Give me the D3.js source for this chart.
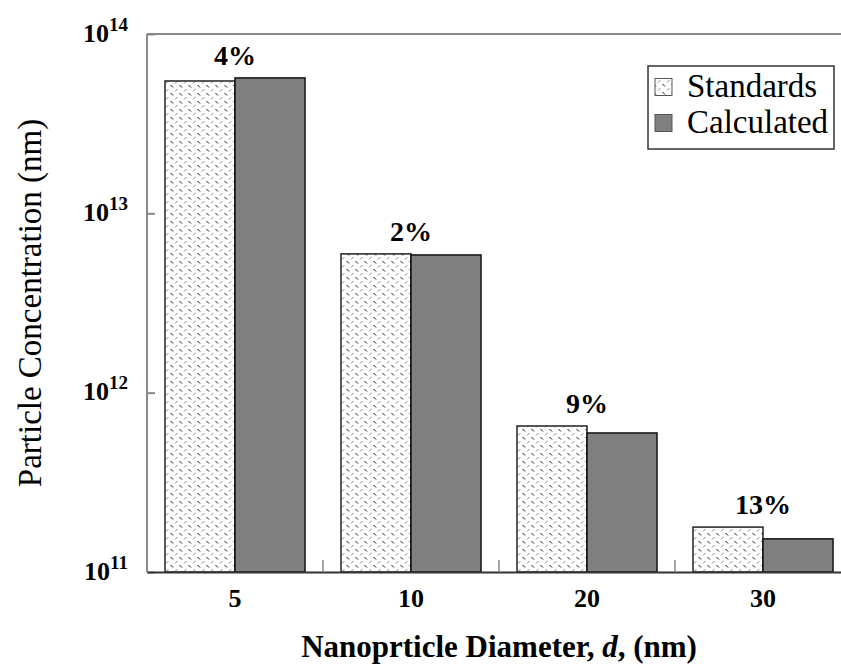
<!DOCTYPE html>
<html>
<head>
<meta charset="utf-8">
<script src="https://cdn.jsdelivr.net/npm/d3@7"></script>
<style>
  body { margin: 0; background: #fff; }
  svg { display: block; }
  svg text { font-family: "Liberation Serif", "Times New Roman", Times, serif !important; }
</style>
</head>
<body>
<svg id="chart" width="841" height="664"></svg>
<script>
// Particle concentration by nanoparticle diameter
const diameters = ["5", "10", "20", "30"];
const standards = [5.47e13, 5.94e12, 6.52e11, 1.78e11];
const calculated = [5.69e13, 5.86e12, 5.96e11, 1.53e11];
const errorLabels = ["4%", "2%", "9%", "13%"];
const yTickExps = [11, 12, 13, 14];
const seriesNames = ["Standards", "Calculated"];

const FONT = "Liberation Serif";
const svg = d3.select("#chart").attr("font-family", FONT);
const plot = { left: 147, right: 851, top: 34, bottom: 572 };

// Hatched fill for the standards bars
const defs = svg.append("defs");
const pat = defs.append("pattern")
  .attr("id", "dots")
  .attr("patternUnits", "userSpaceOnUse")
  .attr("width", 9).attr("height", 8);
pat.append("rect").attr("width", 9).attr("height", 8).attr("fill", "#fff");
pat.append("line").attr("x1", 1).attr("y1", 3.5).attr("x2", 3.5).attr("y2", 1)
  .attr("stroke", "#888").attr("stroke-width", 1);
pat.append("line").attr("x1", 5.5).attr("y1", 5).attr("x2", 8).attr("y2", 7.5)
  .attr("stroke", "#111").attr("stroke-width", 1);

const x = d3.scaleBand().domain(diameters).range([plot.left, plot.right]).paddingInner(0).paddingOuter(0);
const barPad = 18;
const barW = (x.bandwidth() - 2 * barPad) / 2;
const y = d3.scaleLog().domain([1e11, 1e14]).range([plot.bottom, plot.top]);

// Frame: left and top lines
svg.append("line").attr("x1", plot.left).attr("x2", plot.left)
  .attr("y1", plot.top).attr("y2", plot.bottom)
  .attr("stroke", "#888").attr("stroke-width", 2);
svg.append("line").attr("x1", plot.left).attr("x2", plot.right)
  .attr("y1", plot.top).attr("y2", plot.top)
  .attr("stroke", "#888").attr("stroke-width", 2);

// Y axis with inward ticks at each decade
const yAxis = svg.append("g")
  .attr("transform", `translate(${plot.left},0)`)
  .call(d3.axisLeft(y).tickValues(yTickExps.map(e => Math.pow(10, e))).tickSize(-8).tickFormat(""));
yAxis.attr("font-family", FONT);
yAxis.select(".domain").remove();
yAxis.selectAll(".tick line").attr("stroke", "#888").attr("stroke-width", 2);
yAxis.selectAll(".tick").each(function(d) {
  const t = d3.select(this).append("text")
    .attr("x", -19).attr("y", 7)
    .attr("text-anchor", "end")
    .attr("fill", "#000")
    .attr("font-family", FONT)
    .attr("font-weight", "bold")
    .attr("font-size", 26);
  t.append("tspan").text("10");
  t.append("tspan").attr("dy", -11).attr("font-size", 19).text(String(Math.round(Math.log10(d))));
});

// Bars
const groups = svg.append("g").selectAll("g")
  .data(diameters)
  .join("g")
  .attr("transform", d => `translate(${x(d)},0)`);

groups.append("rect")
  .attr("x", barPad)
  .attr("width", barW)
  .attr("y", (d, i) => y(standards[i]))
  .attr("height", (d, i) => plot.bottom - y(standards[i]))
  .attr("fill", "url(#dots)")
  .attr("stroke", "#222").attr("stroke-width", 1.5);

groups.append("rect")
  .attr("x", barPad + barW)
  .attr("width", barW)
  .attr("y", (d, i) => y(calculated[i]))
  .attr("height", (d, i) => plot.bottom - y(calculated[i]))
  .attr("fill", "#808080")
  .attr("stroke", "#111").attr("stroke-width", 1.5);

// Difference labels above each pair
groups.append("text")
  .attr("x", x.bandwidth() / 2)
  .attr("y", (d, i) => Math.min(y(standards[i]), y(calculated[i])) - 13)
  .attr("text-anchor", "middle")
  .attr("font-family", FONT)
  .attr("font-weight", "bold")
  .attr("font-size", 28)
  .text((d, i) => errorLabels[i]);

// X axis: category labels and boundary ticks
const xAxis = svg.append("g")
  .attr("transform", `translate(0,${plot.bottom})`)
  .call(d3.axisBottom(x).tickSize(0).tickPadding(0));
xAxis.attr("font-family", FONT);
xAxis.select(".domain").attr("stroke", "#333").attr("stroke-width", 2);
xAxis.selectAll(".tick text")
  .attr("y", 35)
  .attr("dy", 0)
  .attr("fill", "#000")
  .attr("font-weight", "bold")
  .attr("font-size", 26)
  .attr("font-family", FONT);
svg.append("g").selectAll("line")
  .data(diameters.slice(1))
  .join("line")
  .attr("x1", d => x(d)).attr("x2", d => x(d))
  .attr("y1", plot.bottom).attr("y2", plot.bottom - 12)
  .attr("stroke", "#888").attr("stroke-width", 1.5);

// Axis titles
const xt = svg.append("text")
  .attr("x", (plot.left + plot.right) / 2)
  .attr("y", 657)
  .attr("text-anchor", "middle")
  .attr("font-family", FONT)
  .attr("font-weight", "bold")
  .attr("font-size", 31);
xt.append("tspan").text("Nanoprticle Diameter, ");
xt.append("tspan").attr("font-style", "italic").text("d");
xt.append("tspan").text(", (nm)");

svg.append("text")
  .attr("transform", `translate(41,${(plot.top + plot.bottom) / 2}) rotate(-90)`)
  .attr("text-anchor", "middle")
  .attr("font-family", FONT)
  .attr("font-size", 33)
  .text("Particle Concentration (nm)");

// Legend
const legend = svg.append("g");
legend.append("rect")
  .attr("x", 648).attr("y", 66).attr("width", 186).attr("height", 83)
  .attr("fill", "#fff").attr("stroke", "#333").attr("stroke-width", 1.5);
const rows = legend.selectAll("g.row")
  .data(seriesNames)
  .join("g")
  .attr("class", "row")
  .attr("transform", (d, i) => `translate(0,${87 + i * 36})`);
rows.append("rect")
  .attr("x", 655).attr("y", -8.5).attr("width", 17).attr("height", 17)
  .attr("fill", (d, i) => i === 0 ? "url(#dots)" : "#808080")
  .attr("stroke", "#555").attr("stroke-width", 1);
rows.append("text")
  .attr("x", 687).attr("y", 10)
  .attr("font-family", FONT)
  .attr("font-size", 33)
  .text(d => d);
</script>
</body>
</html>
